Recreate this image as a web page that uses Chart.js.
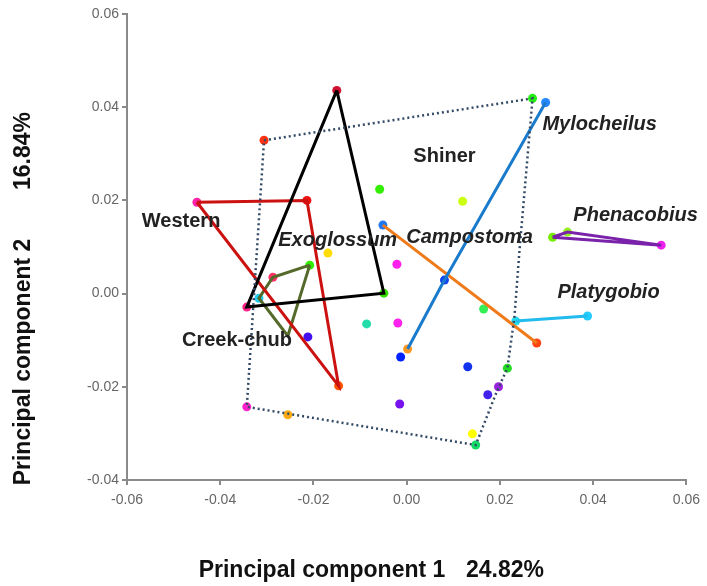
<!DOCTYPE html>
<html>
<head>
<meta charset="utf-8">
<script src="https://cdn.jsdelivr.net/npm/chart.js@4.4.1/dist/chart.umd.min.js"></script>
<style>
  html, body { margin: 0; padding: 0; background: #ffffff; }
  #pca { display: block; }
</style>
</head>
<body>
<canvas id="pca" width="707" height="586"></canvas>
<script>
// --- tick labels ---
const xTickLabels = ['-0.06', '-0.04', '-0.02', '0.00', '0.02', '0.04', '0.06'];
const yTickLabels = ['-0.04', '-0.02', '0.00', '0.02', '0.04', '0.06'];

// --- scores of every sample (PC1, PC2) and its colour ---
const pointX = [-0.0150, -0.0049, -0.0343, -0.0450, -0.0214, -0.0146, -0.0208, -0.0287, -0.0317,
  -0.0306, 0.0270, 0.0216, 0.0148, -0.0343, 0.0298, 0.0081, 0.0002, -0.0051, 0.0279,
  0.0313, 0.0345, 0.0546, 0.0234, 0.0388,
  -0.0058, 0.0120, -0.0021, -0.0169, -0.0086, -0.0019, -0.0212, -0.0013, 0.0165, 0.0131,
  0.0174, 0.0197, -0.0015, 0.0141, -0.0255];
const pointY = [0.0436, 0.0001, -0.0029, 0.0196, 0.0200, -0.0198, 0.0061, 0.0035, -0.0010,
  0.0329, 0.0419, -0.0160, -0.0325, -0.0243, 0.0410, 0.0029, -0.0119, 0.0147, -0.0106,
  0.0121, 0.0132, 0.0104, -0.0059, -0.0048,
  0.0224, 0.0198, 0.0063, 0.0087, -0.0065, -0.0063, -0.0093, -0.0136, -0.0033, -0.0157,
  -0.0217, -0.0200, -0.0237, -0.0301, -0.0260];
const pointColors = ['#d01030', '#33dd00', '#ff2288', '#ff22aa', '#ee1111', '#ff5500', '#33ee00', '#ff3366', '#22ccee',
  '#ff3311', '#22ee11', '#22dd22', '#11dd66', '#ff22cc', '#2288ff', '#1144ee', '#ff9922', '#2277ee', '#ff4411',
  '#77ee00', '#99ee22', '#ee22ee', '#22ddee', '#22ccff',
  '#33ee00', '#ccff11', '#ff22ee', '#ffdd00', '#22ddaa', '#ff22ee', '#4411ee', '#0022ff', '#33ee55', '#1133ee',
  '#4422ee', '#9922dd', '#7711ee', '#ffff00', '#ffaa11'];

// --- group outlines (closed polygons repeat first vertex) ---
const exoglossumX = [-0.0150, -0.0049, -0.0343, -0.0150];
const exoglossumY = [0.0436, 0.0001, -0.0029, 0.0436];
const westernX = [-0.0450, -0.0214, -0.0146, -0.0450];
const westernY = [0.0196, 0.0200, -0.0198, 0.0196];
const creekChubX = [-0.0208, -0.0287, -0.0317, -0.0255, -0.0208];
const creekChubY = [0.0061, 0.0035, -0.0010, -0.0091, 0.0061];
const shinerX = [-0.0306, 0.0270, 0.0242, 0.0231, 0.0216, 0.0193, 0.0148, -0.0343, -0.0306];
const shinerY = [0.0329, 0.0419, 0.0093, -0.0052, -0.0160, -0.0211, -0.0325, -0.0243, 0.0329];
const mylocheilusX = [0.0298, 0.0081, 0.0002];
const mylocheilusY = [0.0410, 0.0029, -0.0119];
const campostomaX = [-0.0051, 0.0279];
const campostomaY = [0.0147, -0.0106];
const phenacobiusX = [0.0313, 0.0546, 0.0345, 0.0313];
const phenacobiusY = [0.0121, 0.0104, 0.0132, 0.0121];
const platygobioX = [0.0234, 0.0388];
const platygobioY = [-0.0059, -0.0048];

// --- group names and where they are written (data coords) ---
const groupLabels = ['Western', 'Exoglossum', 'Creek-chub', 'Shiner', 'Campostoma', 'Mylocheilus', 'Phenacobius', 'Platygobio'];
const labelX = [-0.0484, -0.0148, -0.0364, 0.0081, 0.0135, 0.0414, 0.0491, 0.0433];
const labelY = [0.0155, 0.0114, -0.0100, 0.0295, 0.0121, 0.0363, 0.0168, 0.0003];
const labelItalic = [false, true, false, false, true, true, true, true];

function pairs(xs, ys) {
    return xs.map((x, i) => ({ x: x, y: ys[i] }));
}

function outline(xs, ys, color, dash) {
    return {
        data: pairs(xs, ys),
        showLine: true,
        borderColor: color,
        borderWidth: dash ? 2.5 : 3,
        borderDash: dash || [],
        pointRadius: 0,
        fill: false,
        tension: 0
    };
}

const labelPlugin = {
    id: 'groupLabels',
    afterDatasetsDraw(chart) {
        const ctx = chart.ctx;
        const xs = chart.scales.x, ys = chart.scales.y;
        ctx.save();
        ctx.textAlign = 'center';
        ctx.textBaseline = 'middle';
        ctx.fillStyle = '#222222';
        groupLabels.forEach((txt, i) => {
            ctx.font = (labelItalic[i] ? 'italic ' : '') + 'bold 20px "Liberation Sans", Arial, sans-serif';
            ctx.fillText(txt, xs.getPixelForValue(labelX[i]), ys.getPixelForValue(labelY[i]));
        });

        // axis titles
        ctx.font = 'bold 23px "Liberation Sans", Arial, sans-serif';
        ctx.fillStyle = '#111111';
        ctx.textBaseline = 'alphabetic';
        ctx.fillText('Principal component 1', 322, 577);
        ctx.fillText('24.82%', 505, 577);
        ctx.translate(30, 0);
        ctx.rotate(-Math.PI / 2);
        ctx.fillText('Principal component 2', -362, 0);
        ctx.fillText('16.84%', -151, 0);
        ctx.restore();
    }
};

const axisStyle = {
    grid: { drawOnChartArea: false, drawTicks: true, tickLength: 5, color: '#8a8a8a', lineWidth: 2 },
    border: { display: true, color: '#8a8a8a', width: 2 }
};

const chart = new Chart(document.getElementById('pca').getContext('2d'), {
    type: 'scatter',
    data: {
        datasets: [
            outline(shinerX, shinerY, '#334a66', [2, 3]),
            outline(exoglossumX, exoglossumY, '#000000'),
            outline(westernX, westernY, '#cc1111'),
            outline(creekChubX, creekChubY, '#55692a'),
            outline(mylocheilusX, mylocheilusY, '#1a7acc'),
            outline(campostomaX, campostomaY, '#ee7a1a'),
            outline(phenacobiusX, phenacobiusY, '#7a22aa'),
            outline(platygobioX, platygobioY, '#22bbee'),
            {
                data: pairs(pointX, pointY),
                pointRadius: 4.5,
                pointBorderWidth: 0,
                pointBackgroundColor: pointColors,
                pointBorderColor: pointColors,
                showLine: false
            }
        ]
    },
    options: {
        responsive: false,
        devicePixelRatio: 1,
        animation: false,
        layout: { padding: { left: 0, top: 14, right: 20, bottom: 0 } },
        plugins: {
            legend: { display: false },
            tooltip: { enabled: false }
        },
        scales: {
            x: {
                type: 'linear',
                min: -0.06,
                max: 0.06,
                ...axisStyle,
                afterFit(scale) { scale.height = 106; },
                ticks: {
                    stepSize: 0.02,
                    padding: 7,
                    color: '#666666',
                    font: { size: 14, family: '"Liberation Sans", Arial, sans-serif' },
                    callback: (v, i) => xTickLabels[i]
                }
            },
            y: {
                type: 'linear',
                min: -0.04,
                max: 0.06,
                ...axisStyle,
                afterFit(scale) { scale.width = 127; },
                ticks: {
                    stepSize: 0.02,
                    padding: 3,
                    color: '#666666',
                    font: { size: 14, family: '"Liberation Sans", Arial, sans-serif' },
                    callback: (v, i) => yTickLabels[i]
                }
            }
        }
    },
    plugins: [labelPlugin]
});
</script>
</body>
</html>
